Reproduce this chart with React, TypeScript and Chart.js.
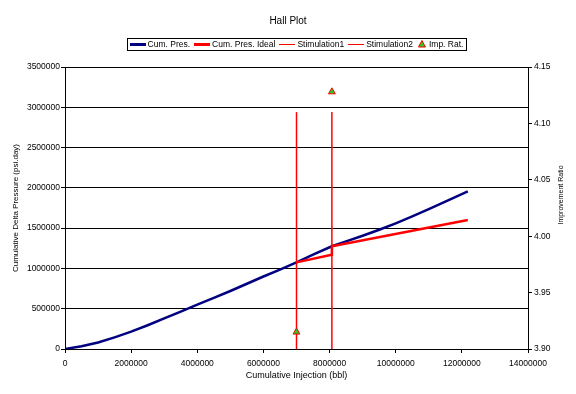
import React, { useEffect, useRef } from "react";
import { Chart, registerables } from "chart.js";

Chart.register(...registerables);

const FONT = "'Liberation Sans', Arial, sans-serif";

// Cumulative injection (bbl) vs cumulative delta pressure (psi.day)
const cumInjection = [
  0, 500000, 1000000, 1500000, 2000000, 2500000, 3000000, 3500000, 4000000,
  4500000, 5000000, 5500000, 6000000, 6500000, 7000000, 7500000, 8070000,
  8500000, 9000000, 9500000, 10000000, 10500000, 11000000, 11500000, 12180000,
];
const cumPres = [
  0, 35000, 80000, 145000, 215000, 295000, 380000, 465000, 550000, 635000,
  720000, 810000, 900000, 985000, 1075000, 1170000, 1275000, 1335000, 1405000,
  1480000, 1560000, 1645000, 1735000, 1830000, 1955000,
];

const idealInjection = [7000000, 8060000, 8070000, 12180000];
const idealPres = [1075000, 1170000, 1275000, 1600000];

const stim1Injection = [7000000, 7000000];
const stim1Pres = [0, 2940000];
const stim2Injection = [8070000, 8070000];
const stim2Pres = [0, 2940000];

const impRatInjection = [7000000, 8070000];
const impRatValues = [3.915, 4.128];

const chartTitle = "Hall Plot";
const xTitle = "Cumulative Injection (bbl)";
const yTitle = "Cumulative Delta Pressure (psi.day)";
const y1Title = "Improvement Ratio";

const xMin = 0, xMax = 14000000, xStep = 2000000;
const yMin = 0, yMax = 3500000, yStep = 500000;
const y1Min = 3.9, y1Max = 4.15, y1Step = 0.05;

const pts = (xs: number[], ys: number[]) => xs.map((x, i) => ({ x, y: ys[i] }));

const customPlugin = {
  id: "customDecor",
  afterDraw(chart: any) {
    const ctx = chart.ctx as CanvasRenderingContext2D;
    const ca = chart.chartArea;
    ctx.save();
    // Title
    ctx.fillStyle = "#000";
    ctx.font = `10px ${FONT}`;
    ctx.textAlign = "center";
    ctx.textBaseline = "middle";
    ctx.fillText(chartTitle, chart.width / 2, 21);

    // Legend
    ctx.font = `8.5px ${FONT}`;
    const items = chart.data.datasets.map((d: any) => ({
      label: d.label,
      color: d.borderColor,
      width: d.borderWidth,
      marker: d.showLine === false,
      bg: d.backgroundColor,
    }));
    const sample = 16, gapText = 2, gapItem = 4, markerW = 10;
    let total = 0;
    items.forEach((it: any, i: number) => {
      total += (it.marker ? markerW : sample) + gapText + ctx.measureText(it.label).width;
      if (i < items.length - 1) total += gapItem;
    });
    const cx = (ca.left + ca.right) / 2;
    const boxL = Math.round(cx - total / 2 - 3) + 0.5;
    const boxR = Math.round(cx + total / 2 + 3) + 0.5;
    const boxT = 38.5, boxB = 50.5;
    const cy = 44.5;
    ctx.strokeStyle = "#000";
    ctx.lineWidth = 1;
    ctx.strokeRect(boxL, boxT, boxR - boxL, boxB - boxT);
    let x = cx - total / 2;
    ctx.textAlign = "left";
    items.forEach((it: any) => {
      if (it.marker) {
        const mx = x + markerW / 2;
        ctx.beginPath();
        ctx.moveTo(mx, cy - 4);
        ctx.lineTo(mx + 3.5, cy + 2.5);
        ctx.lineTo(mx - 3.5, cy + 2.5);
        ctx.closePath();
        ctx.fillStyle = it.bg;
        ctx.fill();
        ctx.strokeStyle = it.color;
        ctx.lineWidth = 1;
        ctx.stroke();
        x += markerW + gapText;
      } else {
        ctx.beginPath();
        ctx.moveTo(Math.round(x), cy);
        ctx.lineTo(Math.round(x + sample), cy);
        ctx.strokeStyle = it.color;
        ctx.lineWidth = it.width < 2 ? 1 : 3;
        ctx.stroke();
        x += sample + gapText;
      }
      ctx.fillStyle = "#000";
      ctx.fillText(it.label, x, cy);
      x += ctx.measureText(it.label).width + gapItem;
    });

    // Right axis title (reads bottom to top)
    ctx.translate(561, 195);
    ctx.rotate(-Math.PI / 2);
    ctx.font = `7px ${FONT}`;
    ctx.textAlign = "center";
    ctx.textBaseline = "middle";
    ctx.fillStyle = "#000";
    ctx.fillText(y1Title, 0, 0);
    ctx.restore();
  },
};

export default function App() {
  const ref = useRef<HTMLCanvasElement | null>(null);
  useEffect(() => {
    if (!ref.current) return;
    const tickFont = { family: FONT, size: 8.5 };
    const chart = new Chart(ref.current, {
      type: "scatter",
      data: {
        datasets: [
          {
            label: "Cum. Pres.",
            data: pts(cumInjection, cumPres),
            showLine: true,
            borderColor: "#000080",
            backgroundColor: "#000080",
            borderWidth: 2.5,
            pointRadius: 0,
            yAxisID: "y",
            order: 5,
          },
          {
            label: "Cum. Pres. Ideal",
            data: pts(idealInjection, idealPres),
            showLine: true,
            borderColor: "#ff0000",
            backgroundColor: "#ff0000",
            borderWidth: 2.5,
            pointRadius: 0,
            yAxisID: "y",
            order: 4,
          },
          {
            label: "Stimulation1",
            data: pts(stim1Injection, stim1Pres),
            showLine: true,
            borderColor: "#ff0000",
            backgroundColor: "#ff0000",
            borderWidth: 1.5,
            pointRadius: 0,
            yAxisID: "y",
            order: 3,
          },
          {
            label: "Stimulation2",
            data: pts(stim2Injection, stim2Pres),
            showLine: true,
            borderColor: "#ff0000",
            backgroundColor: "#ff0000",
            borderWidth: 1.5,
            pointRadius: 0,
            yAxisID: "y",
            order: 2,
          },
          {
            label: "Imp. Rat.",
            data: pts(impRatInjection, impRatValues),
            showLine: false,
            borderColor: "#ff0000",
            backgroundColor: "#22cc22",
            borderWidth: 1,
            pointStyle: "triangle",
            pointRadius: 4,
            yAxisID: "y1",
            order: 1,
          },
        ],
      } as any,
      options: {
        animation: false,
        responsive: false,
        layout: { padding: { top: 67, left: 0, right: 0, bottom: 0 } },
        plugins: {
          legend: { display: false },
          title: { display: false },
          tooltip: { enabled: false },
        },
        scales: {
          x: {
            type: "linear",
            min: xMin,
            max: xMax,
            ticks: {
              stepSize: xStep,
              color: "#000",
              font: tickFont,
              padding: 6,
              maxRotation: 0,
              callback: (v: any) => String(v),
            },
            grid: { drawOnChartArea: false, color: "#000", tickColor: "#000", tickLength: 4 },
            border: { color: "#000", width: 1 },
            title: {
              display: true,
              text: xTitle,
              color: "#000",
              font: { family: FONT, size: 9 },
              padding: { top: 0, bottom: 12.6 },
            },
            afterFit: (s: any) => { s.height = 45; },
          },
          y: {
            type: "linear",
            position: "left",
            min: yMin,
            max: yMax,
            ticks: {
              stepSize: yStep,
              color: "#000",
              font: tickFont,
              padding: 1,
              callback: (v: any) => String(v),
            },
            grid: { color: "#000", tickColor: "#000", tickLength: 4, lineWidth: 1 },
            border: { color: "#000", width: 1 },
            title: {
              display: true,
              text: yTitle,
              color: "#000",
              font: { family: FONT, size: 8 },
              padding: { top: 11.2, bottom: 0 },
            },
            afterFit: (s: any) => { s.width = 65; },
          },
          y1: {
            type: "linear",
            position: "right",
            min: y1Min,
            max: y1Max,
            ticks: {
              stepSize: y1Step,
              color: "#000",
              font: tickFont,
              padding: 2,
              callback: (v: any) => Number(v).toFixed(2),
            },
            grid: { drawOnChartArea: false, color: "#000", tickColor: "#000", tickLength: 4 },
            border: { color: "#000", width: 1 },
            afterFit: (s: any) => { s.width = 48; },
          },
        },
      } as any,
      plugins: [customPlugin],
    });
    return () => chart.destroy();
  }, []);
  return (
    <div style={{ position: "absolute", left: 0, top: 0, width: 576, height: 394, background: "#fff" }}>
      <canvas ref={ref} width={576} height={394} />
    </div>
  );
}
